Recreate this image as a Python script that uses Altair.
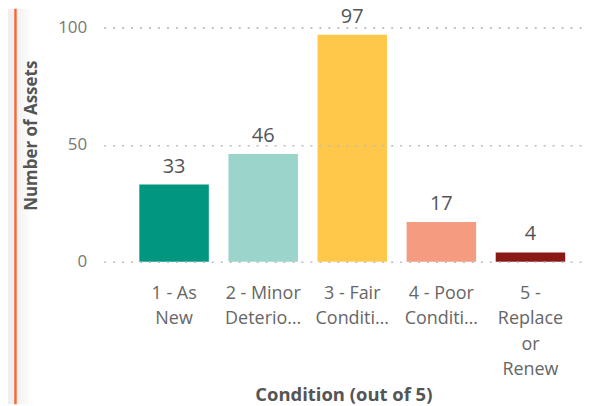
import json
import altair as alt
import pandas as pd

categories = ["1 - As New", "2 - Minor Deterioration", "3 - Fair Condition",
              "4 - Poor Condition", "5 - Replace or Renew"]
counts = [33, 46, 97, 17, 4]
bar_colors = ["#00967F", "#9AD4CB", "#FFC84B", "#F59C80", "#8A1A16"]
tick_label_lines = [["1 - As", "New"], ["2 - Minor", "Deterio…"],
                    ["3 - Fair", "Conditi…"], ["4 - Poor", "Conditi…"],
                    ["5 -", "Replace", "or", "Renew"]]
y_ticks = [0, 50, 100]

FONT = "Open Sans"
W, H = 481, 235
PAD = {"left": 96, "top": 19, "right": 0, "bottom": 143}

df = pd.DataFrame({"Condition": categories, "Count": counts})

label_expr = "%s[indexof(%s, datum.value)]" % (json.dumps(tick_label_lines),
                                                json.dumps(categories))

x = alt.X("Condition:N", sort=categories,
          scale=alt.Scale(paddingInner=0.22, paddingOuter=0.3, align=0.667),
          axis=alt.Axis(title="Condition (out of 5)", labelAngle=0,
                        labelExpr=label_expr, labelFont=FONT, labelFontSize=18,
                        labelColor="#666666", labelPadding=23,
                        labelBaseline="top", labelLineHeight=25.3,
                        labelLimit=200, ticks=False, domain=False,
                        titleFont=FONT, titleFontSize=18.5, titleFontWeight="bold",
                        titleColor="#555555", titleBaseline="bottom",
                        titleY=143, grid=False))
y = alt.Y("Count:Q", scale=alt.Scale(domain=[0, 100], nice=False),
          axis=alt.Axis(title="Number of Assets", values=y_ticks,
                        labelFont=FONT, labelFontSize=17, labelColor="#777777",
                        labelPadding=17, ticks=False, domain=False,
                        grid=True, gridColor="#BBBBBB", gridDash=[2, 7],
                        gridWidth=1.6, zindex=2,
                        titleFont=FONT, titleFontSize=17, titleFontWeight="bold",
                        titleColor="#555555", titleAngle=270, titleX=-72,
                        titleY=108, titleAlign="center",
                        titleBaseline="middle"))

color = alt.Color("Condition:N", sort=categories,
                  scale=alt.Scale(domain=categories, range=bar_colors),
                  legend=None)

bars = alt.Chart(df).mark_bar().encode(x=x, y=y, color=color)
texts = alt.Chart(df).mark_text(font=FONT, fontSize=20, color="#555555",
                                dy=-12, baseline="alphabetic").encode(
    x=alt.X("Condition:N", sort=categories), y="Count:Q", text="Count:Q")

one = alt.Data(values=[{"k": 1}])
strip = alt.Chart(one).mark_rect(color="#EFEFEF").encode(
    x=alt.value(-96), x2=alt.value(-90),
    y=alt.value(-PAD["top"]), y2=alt.value(H + PAD["bottom"]))
edge = alt.Chart(one).mark_rule(color="#F3683A", strokeWidth=2.5).encode(
    x=alt.value(-88.5), y=alt.value(-PAD["top"]), y2=alt.value(H + PAD["bottom"]))
shade = alt.Chart(one).mark_rect(
    color=alt.LinearGradient(gradient="linear",
                             stops=[alt.GradientStop(color="#F1F1F1", offset=0),
                                    alt.GradientStop(color="#FFFFFF", offset=1)],
                             x1=0, x2=1, y1=0, y2=0)).encode(
    x=alt.value(-87), x2=alt.value(-72),
    y=alt.value(-PAD["top"]), y2=alt.value(H + PAD["bottom"]))

chart = alt.layer(strip, shade, edge, bars, texts).properties(
    width=W, height=H, padding=PAD, autosize=alt.AutoSizeParams(type="none"),
    background="white"
).configure_view(stroke=None)

chart.save("out.html", embed_options={"renderer": "svg", "actions": False})
